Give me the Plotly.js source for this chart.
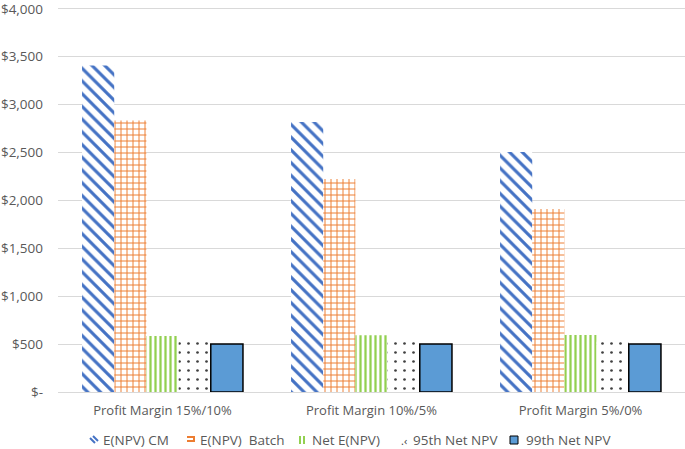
<!DOCTYPE html>
<html>
<head>
<meta charset="utf-8">
<script src="https://cdn.plot.ly/plotly-3.0.1.min.js"></script>
<style>
  html, body { margin: 0; padding: 0; background: #fff; }
  #chart { width: 685px; height: 449px; }
</style>
</head>
<body>
<div id="chart"></div>
<script>
// categories and series values
var categories = ["Profit Margin 15%/10%", "Profit Margin 10%/5%", "Profit Margin 5%/0%"];
var seriesNames = ["E(NPV) CM", "E(NPV)\u00a0 Batch", "Net E(NPV)", "95th Net NPV", "99th Net NPV"];
var enpvCM = [3410, 2820, 2505];
var enpvBatch = [2835, 2225, 1910];
var netENPV = [585, 592, 595];
var net95 = [525, 525, 525];
var net99 = [500, 502, 502];

var yTickVals = [0, 500, 1000, 1500, 2000, 2500, 3000, 3500, 4000];
var yTickText = ["$-", "$500", "$1,000", "$1,500", "$2,000", "$2,500", "$3,000", "$3,500", "$4,000"];

// plot area in pixels (used to place the hand made legend)
var plotLeft = 58, plotWidth = 627, plotBottom = 392, plotHeight = 386;
function px2x(px) { return (px - plotLeft) / plotWidth; }
function px2y(py) { return (plotBottom - py) / plotHeight; }

// Trace 1 E(NPV) CM
var trace1 = {
    x: categories,
    y: enpvCM,
    name: seriesNames[0],
    type: "bar",
    marker: {
        color: "#ffffff",
        pattern: {shape: "\\", fgcolor: "#4472C4", bgcolor: "#ffffff", size: 9, solidity: 0.35, fillmode: "replace"}
    }
};

// Trace 2 E(NPV) Batch
var trace2 = {
    x: categories,
    y: enpvBatch,
    name: seriesNames[1],
    type: "bar",
    marker: {
        color: "#ffffff",
        pattern: {shape: "+", fgcolor: "#ED7D31", bgcolor: "#ffffff", size: 6, solidity: 0.3, fillmode: "replace"}
    }
};

// Trace 3 Net E(NPV)
var trace3 = {
    x: categories,
    y: netENPV,
    name: seriesNames[2],
    type: "bar",
    marker: {
        color: "#ffffff",
        pattern: {shape: "|", fgcolor: "#92D050", bgcolor: "#ffffff", size: 5, solidity: 0.45, fillmode: "replace"}
    }
};

// Trace 4 95th Net NPV
var trace4 = {
    x: categories,
    y: net95,
    name: seriesNames[3],
    type: "bar",
    marker: {
        color: "#ffffff",
        pattern: {shape: ".", fgcolor: "#404040", bgcolor: "#ffffff", size: 9, solidity: 0.07, fillmode: "replace"}
    }
};

// Trace 5 99th Net NPV
var trace5 = {
    x: categories,
    y: net99,
    name: seriesNames[4],
    type: "bar",
    marker: {
        color: "#5B9BD5",
        line: {color: "#000000", width: 1.5}
    }
};

var data = [trace1, trace2, trace3, trace4, trace5];

// legend built by hand so the entries sit as tight as in the original
var legendIconX = [94, 191, 302, 404, 514];
var legendTextX = [101, 198, 310, 411, 524];
var legendY = px2y(440);

var annotations = seriesNames.map(function (name, i) {
    return {
        xref: "paper", yref: "paper",
        x: px2x(legendTextX[i]), y: legendY,
        xanchor: "left", yanchor: "middle",
        text: name, showarrow: false,
        font: {size: 13.5, color: "#595959"}
    };
});
// icon for 95th: a dot and a small chevron
annotations.push({
    xref: "paper", yref: "paper",
    x: px2x(legendIconX[3]), y: legendY,
    xanchor: "center", yanchor: "middle",
    text: ".\u2039", showarrow: false,
    font: {size: 11, color: "#404040"}
});

function iconLine(i, x0, y0, x1, y1, color) {
    return {
        type: "line", xref: "paper", yref: "paper",
        xsizemode: "pixel", ysizemode: "pixel",
        xanchor: px2x(legendIconX[i]), yanchor: legendY,
        x0: x0, y0: y0, x1: x1, y1: y1,
        line: {color: color, width: 2}
    };
}

var shapes = [
    iconLine(0, -4, 2, 1, -3, "#4472C4"),
    iconLine(0, -1, 4, 4, -1, "#4472C4"),
    iconLine(1, -4, 3, 4, 3, "#ED7D31"),
    iconLine(1, 3, 3, 3, -1, "#ED7D31"),
    iconLine(1, -4, -1, 4, -1, "#ED7D31"),
    iconLine(2, -2, -4, -2, 4, "#92D050"),
    iconLine(2, 2, -4, 2, 4, "#92D050"),
    {
        type: "rect", xref: "paper", yref: "paper",
        xsizemode: "pixel", ysizemode: "pixel",
        xanchor: px2x(legendIconX[4]), yanchor: legendY,
        x0: -4, y0: -4, x1: 4, y1: 4,
        fillcolor: "#5B9BD5", line: {color: "#000000", width: 1}
    }
];

var layout = {
    width: 685,
    height: 449,
    paper_bgcolor: "#ffffff",
    plot_bgcolor: "#ffffff",
    font: {family: "Open Sans, Liberation Sans, sans-serif", size: 13, color: "#595959"},
    barmode: "group",
    bargap: 0.23,
    bargroupgap: 0,
    showlegend: false,
    xaxis: {
        showgrid: false,
        showline: false,
        ticks: "",
        ticklabelstandoff: 9,
        tickfont: {size: 13, color: "#595959"}
    },
    yaxis: {
        range: [0, 4030],
        tickvals: yTickVals,
        ticktext: yTickText,
        showgrid: true,
        gridcolor: "#D9D9D9",
        gridwidth: 1,
        zeroline: true,
        zerolinecolor: "#D9D9D9",
        zerolinewidth: 1,
        showline: false,
        ticks: "",
        ticklabelstandoff: 14,
        ticklabeloverflow: "allow",
        tickfont: {size: 13.5, color: "#595959"}
    },
    annotations: annotations,
    shapes: shapes,
    margin: {
        t: 6, //top margin
        l: 58, //left margin
        r: 0, //right margin
        b: 57 //bottom margin
    }
};

Plotly.newPlot("chart", data, layout, {displayModeBar: false});
</script>
</body>
</html>
